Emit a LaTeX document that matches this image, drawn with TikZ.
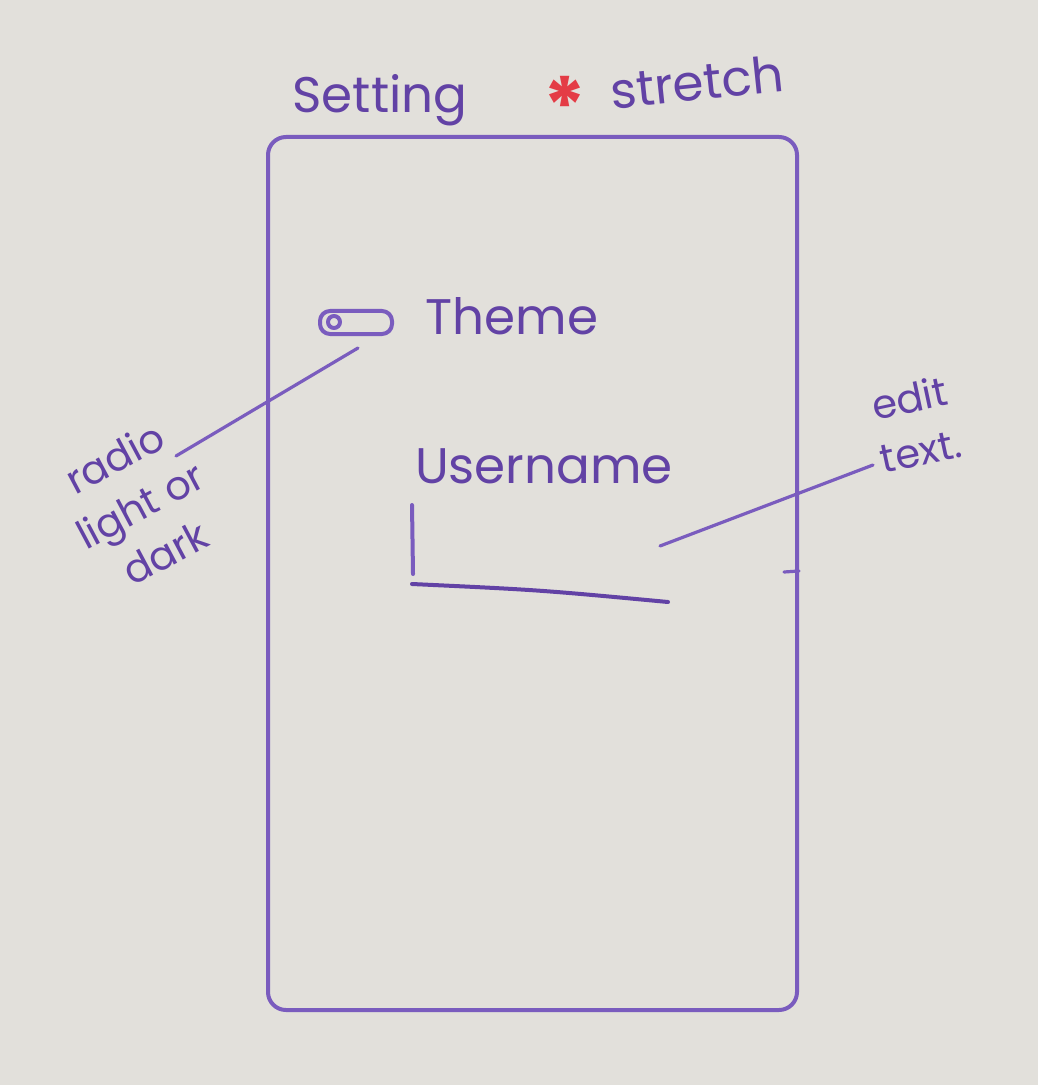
\documentclass[tikz,border=0pt]{standalone}
\usepackage{fontspec}
\setmainfont{Poppins}
\begin{document}
\begin{tikzpicture}[x=0.5pt,y=-0.5pt,
  pen/.style={draw=ink,line width=2pt,line cap=round,line join=round},
  thinpen/.style={draw=ink,line width=1.6pt,line cap=round},
  hand/.style={text=inkdark,font=\fontsize{25}{28}\selectfont,inner sep=0pt},
  small/.style={text=inkdark,font=\fontsize{20}{27}\selectfont,inner sep=0pt,align=center}]
\definecolor{board}{RGB}{226,224,219}
\definecolor{ink}{RGB}{122,92,190}
\definecolor{inkdark}{RGB}{98,66,165}
\definecolor{redink}{RGB}{228,60,70}
% whiteboard
\fill[board] (0,0) rectangle (1038,1085);
\useasboundingbox (0,0) rectangle (1038,1085);

% phone frame
\draw[pen,rounded corners=9pt] (268,137) rectangle (797,1010);
\draw[thinpen] (784,572) -- (799,571);

% title line
\node[hand] (title) at (380,100) {Setting};
\node[text=redink,font=\fontsize{40}{40}\selectfont\bfseries,inner sep=0pt] (star) at (565,106) {*};
\node[hand,rotate=6] (stretch) at (697,82) {stretch};

% theme toggle
\draw[pen,rounded corners=5pt] (320,311) rectangle (392,334);
\draw[pen] (334,322) circle (6);
\node[hand] (theme) at (512,316) {Theme};
\coordinate (togglelead) at (358,348);

% radio annotation
\node[small,rotate=28] (radio) at (140,505) {radio\\light or\\dark};
\coordinate (radiolead) at (176,456);
\draw[thinpen] (togglelead) -- (radiolead);

% username field
\node[hand] (username) at (544,466) {Username};
\coordinate (cursortop) at (412,505);
\coordinate (cursorbot) at (413,574);
\draw[pen] (cursortop) -- (cursorbot);
\coordinate (lineleft) at (412,584);
\coordinate (lineright) at (668,602);
\draw[pen,draw=inkdark] (lineleft) .. controls (540,590) .. (lineright);

% edit text annotation
\node[small,rotate=12] (edit) at (915,424) {edit\\text.};
\coordinate (editend) at (873,465);
\coordinate (fieldlead) at (660,546);
\draw[thinpen] (fieldlead) -- (editend);
\end{tikzpicture}
\end{document}
